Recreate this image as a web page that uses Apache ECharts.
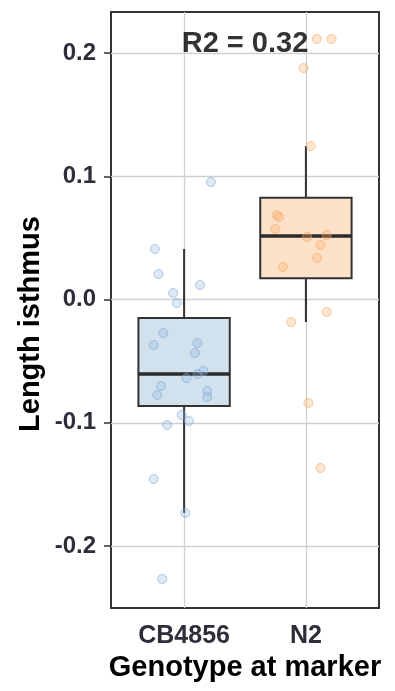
<!DOCTYPE html>
<html>
<head>
<meta charset="utf-8">
<script src="https://cdn.jsdelivr.net/npm/echarts@6/dist/echarts.min.js"></script>
<style>
  html, body { margin: 0; padding: 0; background: #ffffff; }
  #chart { width: 395px; height: 691px; }
</style>
</head>
<body>
<div id="chart"></div>
<script>
// Genotype groups on the x axis
const categories = ['CB4856', 'N2'];

// Per-animal isthmus length, grouped by genotype at the marker
const cb4856Values = [0.0953, 0.0410, 0.0207, 0.0118, 0.0053, -0.0028, -0.0272, -0.0369,
  -0.0353, -0.0434, -0.0580, -0.0605, -0.0637, -0.0702, -0.0775, -0.0742, -0.0791,
  -0.0937, -0.0986, -0.1018, -0.1456, -0.1732, -0.2268];
// horizontal jitter of each point around its category position
const cb4856Jitter = [0.22, -0.24, -0.21, 0.13, -0.09, -0.06, -0.17, -0.25, 0.11, 0.09,
  0.16, 0.11, 0.02, -0.19, -0.22, 0.19, 0.19, -0.02, 0.04, -0.14, -0.25, 0.01, -0.18];

const n2Values = [0.2114, 0.2114, 0.1878, 0.1245, 0.0686, 0.0669, 0.0572, 0.0523, 0.0507,
  0.0442, 0.0337, 0.0264, -0.0101, -0.0183, -0.0840, -0.1367];
const n2Jitter = [0.09, 0.21, -0.02, 0.04, -0.24, -0.22, -0.25, 0.17, 0.01, 0.12, 0.09,
  -0.19, 0.17, -0.12, 0.02, 0.12];

const yTicks = [-0.2, -0.1, 0.0, 0.1, 0.2];
const annotation = 'R2 = 0.32';

// Tukey box statistics: quartiles by linear interpolation, whiskers to the
// most extreme observation within 1.5 IQR of the box.
function quantile(asc, p) {
  const h = (asc.length - 1) * p;
  const lo = Math.floor(h), hi = Math.ceil(h);
  return asc[lo] + (h - lo) * (asc[hi] - asc[lo]);
}
function boxStats(values) {
  const asc = values.slice().sort((a, b) => a - b);
  const q1 = quantile(asc, 0.25), med = quantile(asc, 0.5), q3 = quantile(asc, 0.75);
  const iqr = q3 - q1;
  const lo = Math.min(...asc.filter(v => v >= q1 - 1.5 * iqr));
  const hi = Math.max(...asc.filter(v => v <= q3 + 1.5 * iqr));
  return [lo, q1, med, q3, hi];
}

const boxFill = ['#d2e1ee', '#fde1c9'];
const pointFill = ['rgba(150,186,222,0.4)', 'rgba(251,176,112,0.4)'];
const pointStroke = ['rgba(120,164,212,0.7)', 'rgba(245,160,90,0.7)'];

const boxData = [
  [1].concat(boxStats(cb4856Values), [0]),
  [2].concat(boxStats(n2Values), [1])
];

const font = 'Liberation Sans, Arial, sans-serif';
const chart = echarts.init(document.getElementById('chart'), null, { renderer: 'canvas' });

chart.setOption({
  animation: false,
  backgroundColor: '#ffffff',
  grid: {
    left: 111, right: 16, top: 12, bottom: 83,
    show: true, borderColor: '#333333', borderWidth: 2, backgroundColor: 'transparent'
  },
  // vertical axis title, placed by hand
  graphic: [{
    type: 'text', x: 31, y: 324, rotation: Math.PI / 2, silent: true,
    style: {
      text: 'Length isthmus', align: 'center', verticalAlign: 'middle',
      fontFamily: font, fontSize: 29, fontWeight: 'bold', fill: '#000000'
    }
  }],
  xAxis: {
    type: 'value', min: 0.4, max: 2.6,
    axisLine: { show: false },
    axisTick: { show: true, customValues: [1, 2], length: 6, lineStyle: { color: '#333333', width: 1.5 } },
    axisLabel: {
      customValues: [1, 2],
      formatter: v => categories[Math.round(v) - 1],
      fontFamily: font, fontSize: 25, fontWeight: 'bold', color: '#2e2e3a', margin: 16
    },
    splitLine: { show: true, lineStyle: { color: '#d0d0d0', width: 1.3 } },
    name: 'Genotype at marker', nameLocation: 'middle', nameGap: 41,
    nameTextStyle: { fontFamily: font, fontSize: 29, fontWeight: 'bold', color: '#000000' }
  },
  yAxis: {
    type: 'value', min: -0.2503, max: 0.2333,
    axisLine: { show: false },
    axisTick: { show: true, customValues: yTicks, length: 7, lineStyle: { color: '#333333', width: 1.5 } },
    axisLabel: {
      customValues: yTicks,
      formatter: v => v.toFixed(1),
      fontFamily: font, fontSize: 24, fontWeight: 'bold', color: '#2e2e3a', margin: 15
    },
    splitLine: { show: true, lineStyle: { color: '#d0d0d0', width: 1.3 } }
  },
  series: [
    {
      type: 'custom',
      z: 2,
      data: boxData,
      renderItem: function (params, api) {
        const x = api.value(0);
        const idx = api.value(6);
        const lo = api.coord([x, api.value(1)]);
        const q1 = api.coord([x, api.value(2)]);
        const med = api.coord([x, api.value(3)]);
        const q3 = api.coord([x, api.value(4)]);
        const hi = api.coord([x, api.value(5)]);
        const left = api.coord([x - 0.375, 0])[0];
        const right = api.coord([x + 0.375, 0])[0];
        const line = { stroke: '#333333', lineWidth: 2 };
        return {
          type: 'group',
          children: [
            { type: 'line', shape: { x1: lo[0], y1: lo[1], x2: lo[0], y2: q1[1] }, style: line },
            { type: 'line', shape: { x1: hi[0], y1: hi[1], x2: hi[0], y2: q3[1] }, style: line },
            { type: 'rect', shape: { x: left, y: q3[1], width: right - left, height: q1[1] - q3[1] },
              style: { fill: boxFill[idx], stroke: '#333333', lineWidth: 2 } },
            { type: 'line', shape: { x1: left, y1: med[1], x2: right, y2: med[1] },
              style: { stroke: '#2a2a2a', lineWidth: 3.5 } }
          ]
        };
      }
    },
    {
      type: 'scatter', z: 3, symbol: 'circle', symbolSize: 9,
      data: cb4856Values.map((v, i) => [1 + cb4856Jitter[i], v]),
      itemStyle: { color: pointFill[0], borderColor: pointStroke[0], borderWidth: 1 }
    },
    {
      type: 'scatter', z: 3, symbol: 'circle', symbolSize: 9,
      data: n2Values.map((v, i) => [2 + n2Jitter[i], v]),
      itemStyle: { color: pointFill[1], borderColor: pointStroke[1], borderWidth: 1 }
    },
    {
      type: 'scatter', z: 4, symbolSize: 0, silent: true,
      data: [[1.5, 0.2]],
      label: {
        show: true, position: 'top', distance: 0, offset: [0, 5], formatter: annotation,
        fontFamily: font, fontSize: 29, fontWeight: 'bold', color: '#000000'
      }
    }
  ]
});
</script>
</body>
</html>
